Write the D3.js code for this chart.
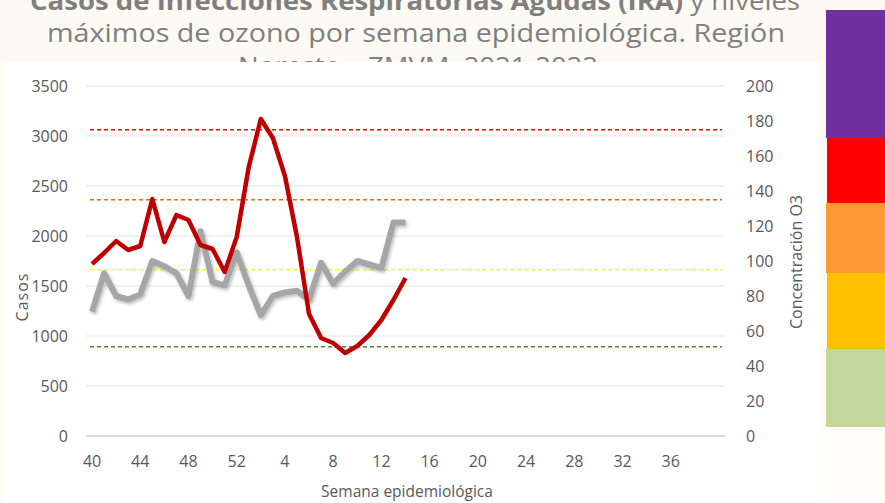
<!DOCTYPE html>
<html>
<head>
<meta charset="utf-8">
<script src="https://cdn.jsdelivr.net/npm/d3@7"></script>
<style>
  html, body { margin: 0; padding: 0; background: #fdfaf4; }
  svg { display: block; }
</style>
</head>
<body>
<svg id="chart" width="885" height="503"></svg>
<script>
// semanas epidemiologicas 2021-2022
var weeks = [40, 41, 42, 43, 44, 45, 46, 47, 48, 49, 50, 51, 52,
  1, 2, 3, 4, 5, 6, 7, 8, 9, 10, 11, 12, 13, 14, 15, 16, 17, 18, 19, 20,
  21, 22, 23, 24, 25, 26, 27, 28, 29, 30, 31, 32, 33, 34, 35, 36, 37, 38, 39, 40];
// casos IRA (eje izquierdo), semana 40 a semana 14
var casos = [1720, 1830, 1950, 1860, 1900, 2370, 1940, 2210, 2160, 1910, 1870, 1640, 1990,
  2690, 3170, 2980, 2600, 1990, 1220, 980, 930, 830, 900, 1010, 1160, 1360, 1580];
// ozono maximo ppb (eje derecho)
var ozono = [71, 93, 80, 78, 81, 100, 97, 93, 80, 117, 88, 86, 105,
  86, 69, 80, 82, 83, 78, 99, 87, 94, 100, 98, 96, 122, 122];
// umbrales de calidad del aire (ppb)
var umbrales = [175, 135, 95, 51];
var umbralColors = ['#ff0000', '#e46c0a', '#ffff00', '#4f8a1e'];
var leftTicks = [0, 500, 1000, 1500, 2000, 2500, 3000, 3500];
var rightTicks = [0, 20, 40, 60, 80, 100, 120, 140, 160, 180, 200];
var bandColors = ['#7030a0', '#ff0000', '#ff9933', '#ffc000', '#c4d79b'];

var svg = d3.select('#chart');

// titulo (parcialmente oculto por el area del grafico)
var title = svg.append('g')
  .attr('font-family', 'Open Sans, sans-serif')
  .attr('fill', '#7f7f7f')
  .attr('font-size', 25)
  .attr('text-anchor', 'middle');
var t1 = title.append('text').attr('x', 415).attr('y', 10)
  .attr('textLength', 770).attr('lengthAdjust', 'spacingAndGlyphs');
t1.append('tspan').attr('font-weight', 'bold').text('Casos de Infecciones Respiratorias Agudas (IRA)');
t1.append('tspan').text(' y niveles');
title.append('text').attr('x', 416).attr('y', 42)
  .attr('textLength', 738).attr('lengthAdjust', 'spacingAndGlyphs')
  .text('máximos de ozono por semana epidemiológica. Región');
title.append('text').attr('x', 418).attr('y', 75)
  .attr('textLength', 360).attr('lengthAdjust', 'spacingAndGlyphs')
  .text('Noreste – ZMVM, 2021-2022');

// area blanca del grafico
svg.append('rect').attr('x', 3).attr('y', 62).attr('width', 817).attr('height', 441)
  .attr('fill', '#ffffff');
svg.append('rect').attr('x', 820).attr('y', 427).attr('width', 65).attr('height', 76)
  .attr('fill', '#fefdfb');

// barra de colores a la derecha
var bandTops = [10, 138, 203, 273, 349, 427];
svg.selectAll('rect.band').data(bandColors).enter().append('rect')
  .attr('class', 'band')
  .attr('x', function(d, i) { return i % 2 === 0 ? 826 : 827; })
  .attr('y', function(d, i) { return bandTops[i]; })
  .attr('width', 60)
  .attr('height', function(d, i) { return bandTops[i + 1] - bandTops[i]; })
  .attr('fill', function(d) { return d; });

var plotL = 86, plotR = 725, plotT = 86, plotB = 436;

var x = d3.scaleBand().domain(d3.range(weeks.length)).range([plotL, plotR]);
var cx = function(i) { return x(i) + x.bandwidth() / 2; };
var yL = d3.scaleLinear().domain([0, 3500]).range([plotB, plotT]);
var yR = d3.scaleLinear().domain([0, 200]).range([plotB, plotT]);

// lineas de cuadricula
svg.append('g').selectAll('line').data(leftTicks).enter().append('line')
  .attr('x1', plotL).attr('x2', plotR)
  .attr('y1', function(d) { return yL(d); }).attr('y2', function(d) { return yL(d); })
  .attr('stroke', function(d) { return d === 0 ? '#cfcfcf' : '#ececec'; })
  .attr('stroke-width', 1.5);

// ejes
var axisL = svg.append('g').attr('transform', 'translate(' + plotL + ',0)')
  .call(d3.axisLeft(yL).tickValues(leftTicks).tickSize(0).tickPadding(18)
    .tickFormat(d3.format('d')));
var axisR = svg.append('g').attr('transform', 'translate(' + plotR + ',0)')
  .call(d3.axisRight(yR).tickValues(rightTicks).tickSize(0).tickPadding(21));
var tickIdx = d3.range(0, 49, 4);
var axisB = svg.append('g').attr('transform', 'translate(0,' + plotB + ')')
  .call(d3.axisBottom(x).tickValues(tickIdx).tickSize(0).tickPadding(20)
    .tickFormat(function(i) { return weeks[i]; }));
[axisL, axisR, axisB].forEach(function(a) {
  a.select('.domain').remove();
  a.selectAll('text')
    .attr('font-family', 'Open Sans, sans-serif')
    .attr('font-size', 16)
    .attr('fill', '#595959');
});

// umbrales punteados
svg.append('g').selectAll('line').data(umbrales).enter().append('line')
  .attr('x1', 90).attr('x2', 722)
  .attr('y1', function(d) { return yR(d); }).attr('y2', function(d) { return yR(d); })
  .attr('stroke', function(d, i) { return umbralColors[i]; })
  .attr('stroke-width', 1.5)
  .attr('stroke-dasharray', '4,3');

// sombra suave para la serie de ozono
var defs = svg.append('defs');
var f = defs.append('filter').attr('id', 'shadow')
  .attr('x', '-10%').attr('y', '-10%').attr('width', '130%').attr('height', '130%');
f.append('feDropShadow').attr('dx', 1.5).attr('dy', 2).attr('stdDeviation', 1.5)
  .attr('flood-color', '#000').attr('flood-opacity', 0.25);

var lineO = d3.line().x(function(d, i) { return cx(i); }).y(function(d) { return yR(d); });
var lineC = d3.line().x(function(d, i) { return cx(i); }).y(function(d) { return yL(d); });

svg.append('path').datum(ozono)
  .attr('d', lineO)
  .attr('fill', 'none')
  .attr('stroke', '#a6a6a6')
  .attr('stroke-width', 6)
  .attr('stroke-linejoin', 'round')
  .attr('filter', 'url(#shadow)');

svg.append('path').datum(casos)
  .attr('d', lineC)
  .attr('fill', 'none')
  .attr('stroke', '#c00000')
  .attr('stroke-width', 4.5)
  .attr('stroke-linejoin', 'round');

// titulos de ejes
var axisFont = 'Open Sans, sans-serif';
svg.append('text')
  .attr('transform', 'translate(28,297) rotate(-90)')
  .attr('text-anchor', 'middle')
  .attr('font-family', axisFont).attr('font-size', 16).attr('fill', '#595959')
  .attr('letter-spacing', 1)
  .text('Casos');
svg.append('text')
  .attr('transform', 'translate(802,262) rotate(-90)')
  .attr('text-anchor', 'middle')
  .attr('font-family', axisFont).attr('font-size', 16).attr('fill', '#595959')
  .text('Concentración O3');
svg.append('text')
  .attr('x', 407).attr('y', 497)
  .attr('text-anchor', 'middle')
  .attr('font-family', axisFont).attr('font-size', 15.5).attr('fill', '#595959')
  .text('Semana epidemiológica');
</script>
</body>
</html>
